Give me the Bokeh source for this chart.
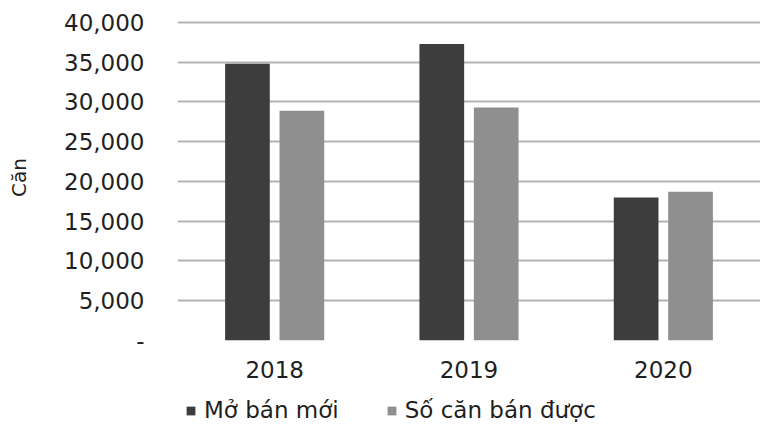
from bokeh.plotting import figure
from bokeh.layouts import column
from bokeh.models import FactorRange, Range1d, NumeralTickFormatter, Legend, LegendItem, ColumnDataSource
from bokeh.transform import dodge
from bokeh.embed import file_html
from bokeh.resources import INLINE

years = ["2018", "2019", "2020"]
mo_ban_moi = [34800, 37300, 18000]
so_can_ban_duoc = [28900, 29300, 18700]
series_names = ["Mở bán mới", "Số căn bán được"]
y_ticks = [0, 5000, 10000, 15000, 20000, 25000, 30000, 35000, 40000]
y_label = "Căn"

FONT = "DejaVu Sans"
TXT = "#1f1f1f"
DARK = "#3d3d3d"
LIGHT = "#8f8f8f"

src = ColumnDataSource(dict(year=years, a=mo_ban_moi, b=so_can_ban_duoc))
xr = FactorRange(*years)

p = figure(x_range=xr, y_range=Range1d(0, 41000),
           width=760, height=392, output_backend="svg", toolbar_location=None,
           min_border_left=177, min_border_right=0, min_border_top=14, min_border_bottom=52)
p.background_fill_color = "white"
p.border_fill_color = "white"
p.outline_line_color = None

r1 = p.vbar(x=dodge("year", -0.14, range=xr), top="a", width=0.23, source=src,
            fill_color=DARK, line_color=None)
r2 = p.vbar(x=dodge("year", 0.14, range=xr), top="b", width=0.23, source=src,
            fill_color=LIGHT, line_color=None)

p.xgrid.grid_line_color = None
p.ygrid.grid_line_color = "#b3b3b3"
p.ygrid.grid_line_width = 2

ya = p.yaxis[0]
ya.ticker = y_ticks
ya.formatter = NumeralTickFormatter(format="0,0")
ya.major_label_overrides = {0: "-"}
ya.axis_line_color = None
ya.major_tick_line_color = None
ya.minor_tick_line_color = None
ya.major_label_text_font = FONT
ya.major_label_text_font_size = "23px"
ya.major_label_text_color = TXT
ya.major_label_standoff = 27
ya.axis_label = y_label
ya.axis_label_text_font = FONT
ya.axis_label_text_font_size = "20px"
ya.axis_label_text_font_style = "normal"
ya.axis_label_text_color = TXT
ya.axis_label_standoff = 30

xa = p.xaxis[0]
xa.axis_line_color = None
xa.major_tick_line_color = None
xa.minor_tick_line_color = None
xa.major_label_text_font = FONT
xa.major_label_text_font_size = "23px"
xa.major_label_text_color = TXT
xa.major_label_standoff = 14

# legend strip below the chart (same series drawn far outside its view; only the legend shows)
lg = figure(width=760, height=35, output_backend="svg", toolbar_location=None,
            x_range=xr, y_range=Range1d(100000, 200000),
            x_axis_type=None, y_axis_type=None, min_border=0)
lg.outline_line_color = None
lg.background_fill_color = "white"
lg.border_fill_color = "white"
lg.grid.visible = False
g1 = lg.vbar(x=dodge("year", -0.14, range=xr), top="a", width=0.23, source=src,
             fill_color=DARK, line_color=None)
g2 = lg.vbar(x=dodge("year", 0.14, range=xr), top="b", width=0.23, source=src,
             fill_color=LIGHT, line_color=None)

legend = Legend(items=[LegendItem(label=series_names[0], renderers=[g1]),
                       LegendItem(label=series_names[1], renderers=[g2])],
                location=(8, 4), orientation="horizontal")
legend.border_line_color = None
legend.background_fill_alpha = 0
legend.padding = 0
legend.margin = 0
legend.glyph_width = 11
legend.glyph_height = 11
legend.label_standoff = 8
legend.spacing = 47
legend.label_text_font = FONT
legend.label_text_font_size = "23px"
legend.label_text_color = TXT
lg.add_layout(legend, "center")

layout = column(p, lg, spacing=0)
open("out.html", "w").write(file_html(layout, INLINE))
